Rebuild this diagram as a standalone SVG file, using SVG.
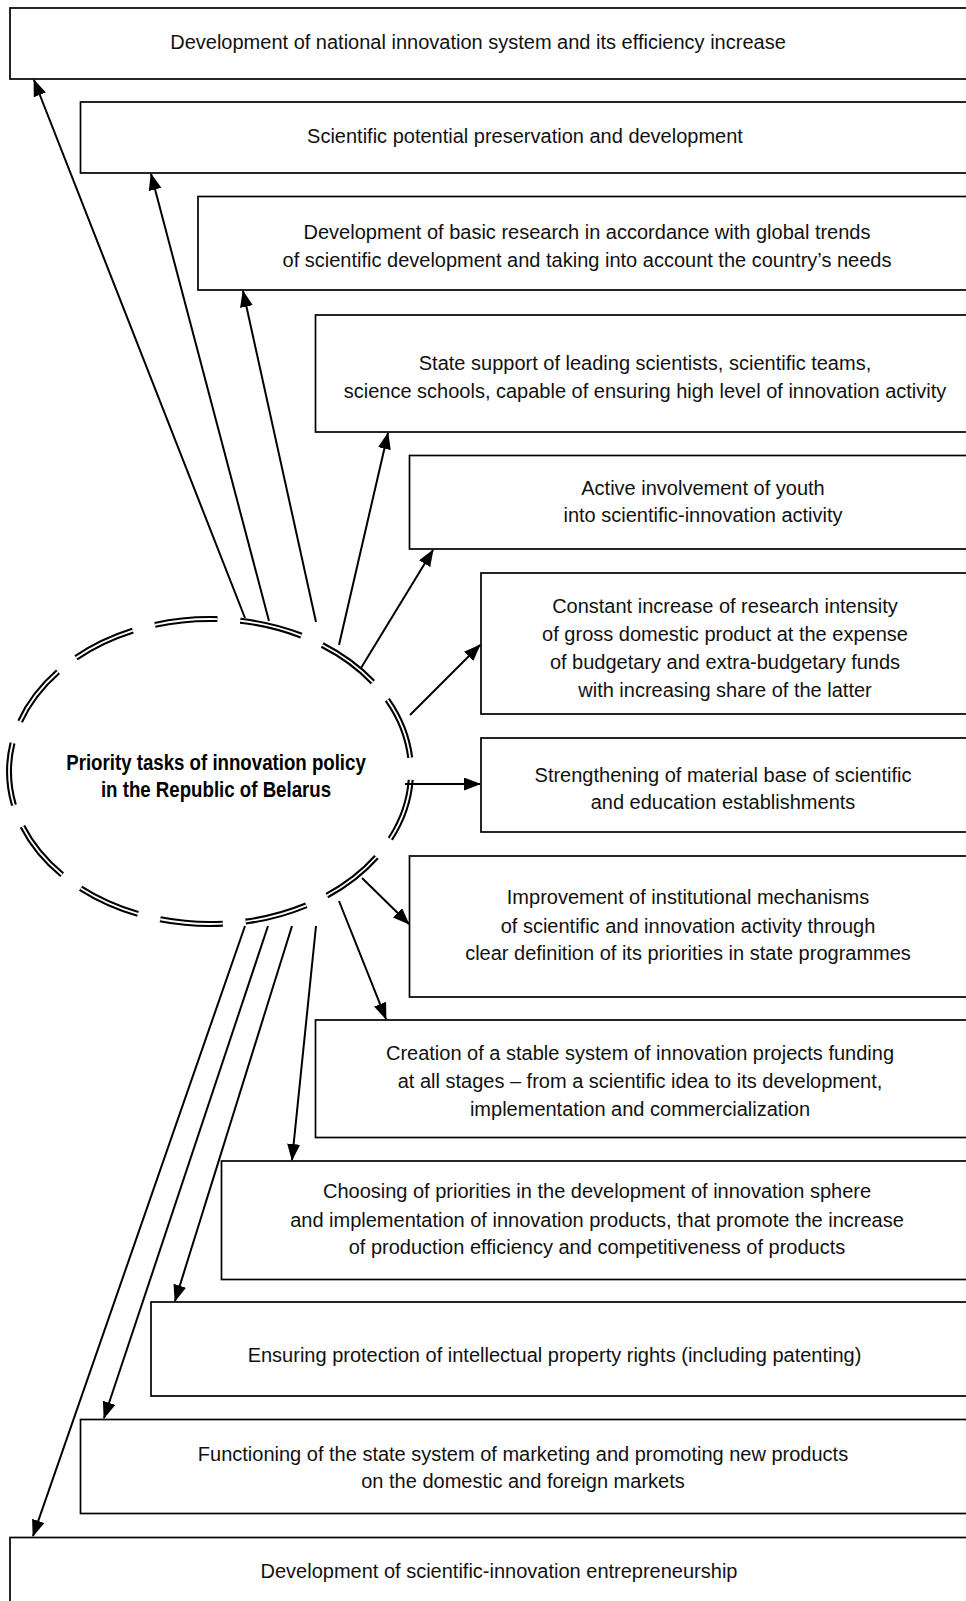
<svg xmlns="http://www.w3.org/2000/svg" width="966" height="1601" viewBox="0 0 966 1601">
<style>
.box{fill:#fff;stroke:#000;stroke-width:1.7}
.t{font-family:"Liberation Sans",Arial,sans-serif;font-size:20px;fill:#111;text-anchor:middle}
.tb{font-family:"Liberation Sans",Arial,sans-serif;font-size:22.5px;font-weight:bold;fill:#000;text-anchor:middle}
.c line{stroke:#000;stroke-width:2;fill:none}
</style>
<defs>
<marker id="ah" markerUnits="userSpaceOnUse" markerWidth="18" markerHeight="14" refX="16" refY="6.5" orient="auto">
<path d="M0,0 L17,6.5 L0,13 z" fill="#000"/>
</marker>
</defs>
<rect width="966" height="1601" fill="#fff"/>

<g id="n1"><rect class="box" x="10" y="8" width="970" height="71"/>
<text class="t" x="478" y="49">Development of national innovation system and its efficiency increase</text></g>
<g id="n2"><rect class="box" x="80.5" y="102" width="900" height="71"/>
<text class="t" x="525" y="143">Scientific potential preservation and development</text></g>
<g id="n3"><rect class="box" x="198" y="196.5" width="790" height="93.5"/>
<text class="t" x="587" y="239">Development of basic research in accordance with global trends</text>
<text class="t" x="587" y="267">of scientific development and taking into account the country’s needs</text></g>
<g id="n4"><rect class="box" x="315.5" y="315" width="670" height="117"/>
<text class="t" x="645" y="370">State support of leading scientists, scientific teams,</text>
<text class="t" x="645" y="397.5">science schools, capable of ensuring high level of innovation activity</text></g>
<g id="n5"><rect class="box" x="409.5" y="455.5" width="580" height="93.5"/>
<text class="t" x="703" y="494.5">Active involvement of youth</text>
<text class="t" x="703" y="522">into scientific-innovation activity</text></g>
<g id="n6"><rect class="box" x="481" y="573" width="500" height="141"/>
<text class="t" x="725" y="612.5">Constant increase of research intensity</text>
<text class="t" x="725" y="640.5">of gross domestic product at the expense</text>
<text class="t" x="725" y="669">of budgetary and extra-budgetary funds</text>
<text class="t" x="725" y="697">with increasing share of the latter</text></g>
<g id="n7"><rect class="box" x="481" y="738" width="500" height="94"/>
<text class="t" x="723" y="781.5">Strengthening of material base of scientific</text>
<text class="t" x="723" y="809">and education establishments</text></g>
<g id="n8"><rect class="box" x="409.5" y="856" width="580" height="141"/>
<text class="t" x="688" y="904">Improvement of institutional mechanisms</text>
<text class="t" x="688" y="932.5">of scientific and innovation activity through</text>
<text class="t" x="688" y="960">clear definition of its priorities in state programmes</text></g>
<g id="n9"><rect class="box" x="315.5" y="1020" width="670" height="117.5"/>
<text class="t" x="640" y="1060">Creation of a stable system of innovation projects funding</text>
<text class="t" x="640" y="1088">at all stages – from a scientific idea to its development,</text>
<text class="t" x="640" y="1116">implementation and commercialization</text></g>
<g id="n10"><rect class="box" x="221.5" y="1161" width="770" height="118.5"/>
<text class="t" x="597" y="1198">Choosing of priorities in the development of innovation sphere</text>
<text class="t" x="597" y="1226.5">and implementation of innovation products, that promote the increase</text>
<text class="t" x="597" y="1254">of production efficiency and competitiveness of products</text></g>
<g id="n11"><rect class="box" x="151" y="1302" width="840" height="94"/>
<text class="t" x="554.5" y="1361.5">Ensuring protection of intellectual property rights (including patenting)</text></g>
<g id="n12"><rect class="box" x="80.5" y="1419.5" width="900" height="94"/>
<text class="t" x="523" y="1460.5">Functioning of the state system of marketing and promoting new products</text>
<text class="t" x="523" y="1488">on the domestic and foreign markets</text></g>
<g id="n13"><rect class="box" x="10" y="1537.5" width="970" height="80"/>
<text class="t" x="499" y="1578">Development of scientific-innovation entrepreneurship</text></g>

<g id="center">
<ellipse cx="210" cy="771.5" rx="201" ry="152.5" fill="none" stroke="#000" stroke-width="6" stroke-dasharray="63 22.84" stroke-dashoffset="77.4"/>
<ellipse cx="210" cy="771.5" rx="201" ry="152.5" fill="none" stroke="#fff" stroke-width="1.8" stroke-dasharray="63 22.84" stroke-dashoffset="77.4"/>
<text class="tb" transform="translate(216,770) scale(0.83,1)" x="0" y="0">Priority tasks of innovation policy</text>
<text class="tb" transform="translate(216,797) scale(0.83,1)" x="0" y="0">in the Republic of Belarus</text>
</g>

<g id="connectors" class="c">
<line x1="245" y1="618" x2="34" y2="80" marker-end="url(#ah)"/>
<line x1="269" y1="621" x2="151" y2="174" marker-end="url(#ah)"/>
<line x1="316" y1="622" x2="243" y2="291" marker-end="url(#ah)"/>
<line x1="339" y1="645" x2="388" y2="433" marker-end="url(#ah)"/>
<line x1="361" y1="668" x2="433" y2="550" marker-end="url(#ah)"/>
<line x1="410" y1="715" x2="480" y2="645" marker-end="url(#ah)"/>
<line x1="405" y1="784" x2="480" y2="784" marker-end="url(#ah)"/>
<line x1="362" y1="878" x2="409" y2="924" marker-end="url(#ah)"/>
<line x1="339" y1="901" x2="386" y2="1019" marker-end="url(#ah)"/>
<line x1="316" y1="926" x2="292" y2="1160" marker-end="url(#ah)"/>
<line x1="292" y1="926" x2="175" y2="1301" marker-end="url(#ah)"/>
<line x1="268" y1="926" x2="104" y2="1418" marker-end="url(#ah)"/>
<line x1="245" y1="926" x2="33" y2="1536" marker-end="url(#ah)"/>
</g>
</svg>
